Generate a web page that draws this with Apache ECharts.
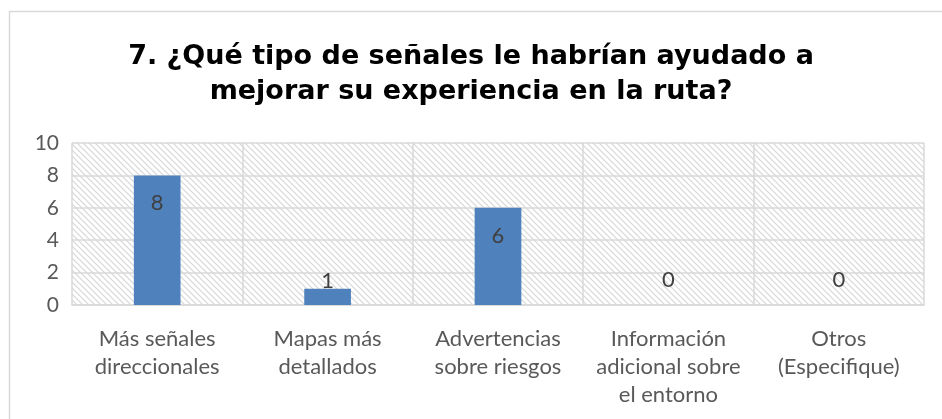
<!DOCTYPE html>
<html>
<head>
<meta charset="utf-8">
<script src="https://cdn.jsdelivr.net/npm/echarts@6/dist/echarts.min.js"></script>
<style>
  html, body { margin: 0; padding: 0; background: #fff; }
  #chart { width: 942px; height: 419px; }
</style>
</head>
<body>
<div id="chart"></div>
<script>
// chart data
const categories = [
    'Más señales\ndireccionales',
    'Mapas más\ndetallados',
    'Advertencias\nsobre riesgos',
    'Información\nadicional sobre\nel entorno',
    'Otros\n(Especifique)'
];
const values = [8, 1, 6, 0, 0];
const yTicks = [0, 2, 4, 6, 8, 10];

// hatched background for the plot area
const hatch = document.createElement('canvas');
hatch.width = 6;
hatch.height = 6;
const hctx = hatch.getContext('2d');
hctx.fillStyle = '#ffffff';
hctx.fillRect(0, 0, 6, 6);
hctx.strokeStyle = '#d6d6d6';
hctx.lineWidth = 1.2;
hctx.beginPath();
hctx.moveTo(-1, -1); hctx.lineTo(7, 7);
hctx.moveTo(-1, 5); hctx.lineTo(1, 7);
hctx.moveTo(5, -1); hctx.lineTo(7, 1);
hctx.stroke();

const chart = echarts.init(document.getElementById('chart'));

const option = {
    backgroundColor: '#fff',
    title: {
        text: '7. ¿Qué tipo de señales le habrían ayudado a\nmejorar su experiencia en la ruta?',
        left: 'center',
        top: 34,
        textStyle: {
            fontFamily: 'DejaVu Sans',
            fontWeight: 'bold',
            fontSize: 27,
            lineHeight: 35,
            color: '#000'
        }
    },
    grid: {
        left: 72,
        right: 18,
        top: 143,
        bottom: 114,
        show: true,
        borderWidth: 0,
        backgroundColor: { image: hatch, repeat: 'repeat' }
    },
    xAxis: {
        type: 'category',
        data: categories,
        axisTick: { show: false },
        axisLine: { lineStyle: { color: '#d9d9d9', width: 1.5 } },
        splitLine: { show: true, interval: 0, lineStyle: { color: '#d9d9d9', width: 1.5 } },
        axisLabel: {
            interval: 0,
            margin: 20,
            fontFamily: 'Lato',
            fontSize: 22,
            lineHeight: 28,
            color: '#595959'
        }
    },
    yAxis: {
        type: 'value',
        min: yTicks[0],
        max: yTicks[yTicks.length - 1],
        interval: 2,
        axisLine: { show: false },
        axisTick: { show: false },
        splitLine: { lineStyle: { color: '#d9d9d9', width: 1.5 } },
        axisLabel: {
            margin: 13,
            fontFamily: 'Lato',
            fontSize: 21,
            color: '#595959'
        }
    },
    series: [{
        type: 'bar',
        barWidth: '27.4%',
        data: values.map(v => ({
            value: v,
            label: v >= 2
                ? { position: 'insideTop', distance: 17 }
                : { position: 'top', distance: v === 0 ? 14 : -3 }
        })),
        itemStyle: { color: '#4f81bd' },
        label: {
            show: true,
            fontFamily: 'Lato',
            fontSize: 22,
            color: '#404040'
        }
    }],
    graphic: [{
        type: 'rect',
        shape: { x: 9.5, y: 11.5, width: 950, height: 420 },
        style: { fill: 'none', stroke: '#d9d9d9', lineWidth: 1.5 },
        silent: true
    }]
};

chart.setOption(option);
window.addEventListener('resize', chart.resize);
</script>
</body>
</html>
